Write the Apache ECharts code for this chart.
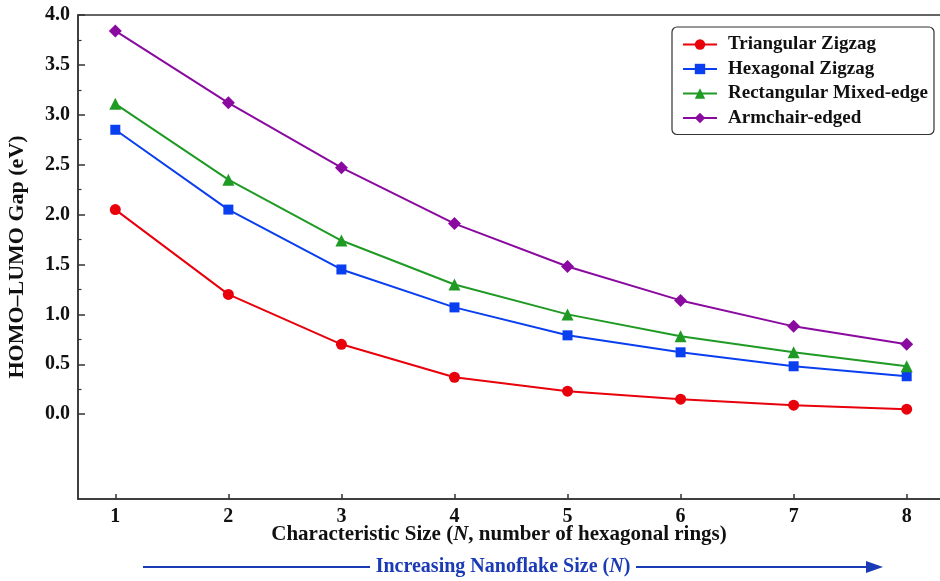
<!DOCTYPE html>
<html>
<head>
<meta charset="utf-8">
<script src="https://cdn.jsdelivr.net/npm/echarts@6/dist/echarts.min.js"></script>
<style>
html, body { margin: 0; padding: 0; background: #fff; }
#main { width: 940px; height: 581px; }
</style>
</head>
<body>
<div id="main"></div>
<script>
// data
var sizes = [1, 2, 3, 4, 5, 6, 7, 8];
var seriesNames = ['Triangular Zigzag', 'Hexagonal Zigzag', 'Rectangular Mixed-edge', 'Armchair-edged'];
var triangular = [2.05, 1.20, 0.70, 0.37, 0.23, 0.15, 0.09, 0.05];
var hexagonal = [2.85, 2.05, 1.45, 1.07, 0.79, 0.62, 0.48, 0.38];
var rectangular = [3.11, 2.35, 1.74, 1.30, 1.00, 0.78, 0.62, 0.48];
var armchair = [3.84, 3.12, 2.47, 1.91, 1.48, 1.14, 0.88, 0.70];
var yTicks = [0, 0.5, 1, 1.5, 2, 2.5, 3, 3.5, 4];
var yMinorTicks = [0.25, 0.75, 1.25, 1.75, 2.25, 2.75, 3.25, 3.75];

var serif = 'Liberation Serif';
var colors = ['#e8000b', '#0a3ff0', '#1f9a24', '#8a0aa0'];
var symbols = ['circle', 'rect', 'triangle', 'diamond'];
var symbolSizes = [11, 10, 12, 13];
var allData = [triangular, hexagonal, rectangular, armchair];

function pairs(vals) {
    var out = [];
    for (var i = 0; i < sizes.length; i++) {
        out.push([sizes[i], vals[i]]);
    }
    return out;
}

var series = [];
for (var i = 0; i < seriesNames.length; i++) {
    series.push({
        name: seriesNames[i],
        type: 'line',
        data: pairs(allData[i]),
        symbol: symbols[i],
        symbolSize: symbolSizes[i],
        lineStyle: { color: colors[i], width: 2 },
        itemStyle: { color: colors[i] },
        z: 3 + i
    });
}

var myChart = echarts.init(document.getElementById('main'));
var option = {
    backgroundColor: '#fff',
    animation: false,
    grid: {
        left: 78, top: 15, width: 866, height: 484,
        outerBoundsMode: 'none',
        containLabel: false,
        show: true, borderColor: '#333', borderWidth: 1.5
    },
    legend: {
        orient: 'vertical',
        left: 672, top: 27,
        padding: [8, 6, 7, 10],
        backgroundColor: '#fff',
        borderColor: '#333',
        borderWidth: 1.2,
        borderRadius: 5,
        itemWidth: 34,
        itemHeight: 13,
        itemGap: 5.5,
        data: seriesNames,
        textStyle: { fontFamily: serif, fontWeight: 'bold', fontSize: 19, lineHeight: 19, color: '#111', padding: [0, 0, 0, 6] }
    },
    xAxis: {
        type: 'value',
        min: 0.67, max: 8.33,
        axisLine: { show: true, onZero: false, lineStyle: { color: '#333', width: 1.5 } },
        axisTick: { show: true, inside: true, length: 5, customValues: sizes, lineStyle: { color: '#333', width: 1.5 } },
        axisLabel: { customValues: sizes, margin: 8, fontFamily: serif, fontWeight: 'bold', fontSize: 20, color: '#111' },
        splitLine: { show: false }
    },
    yAxis: [{
        type: 'value',
        min: -0.85, max: 4,
        name: 'HOMO\u2013LUMO Gap (eV)',
        nameLocation: 'middle',
        nameGap: 50,
        nameTextStyle: { fontFamily: serif, fontWeight: 'bold', fontSize: 22, color: '#111' },
        axisLine: { show: true, onZero: false, lineStyle: { color: '#333', width: 1.5 } },
        axisTick: { show: true, inside: true, length: 7, customValues: yTicks, lineStyle: { color: '#333', width: 1.5 } },
        axisLabel: {
            customValues: yTicks, margin: 8,
            fontFamily: serif, fontWeight: 'bold', fontSize: 20, color: '#111',
            formatter: function (v) { return v.toFixed(1); }
        },
        splitLine: { show: false }
    }, {
        type: 'value',
        min: -0.85, max: 4,
        position: 'left',
        axisLine: { show: false, onZero: false },
        axisTick: { show: true, inside: true, length: 3.5, customValues: yMinorTicks, lineStyle: { color: '#333', width: 1.2 } },
        axisLabel: { show: false },
        splitLine: { show: false }
    }],
    series: series,
    graphic: [
        {
            type: 'text', x: 499, y: 535,
            style: {
                text: '{b|Characteristic Size (}{i|N}{b|, number of hexagonal rings)}',
                align: 'center', verticalAlign: 'middle',
                rich: {
                    b: { fontFamily: serif, fontWeight: 'bold', fontSize: 21, fill: '#111' },
                    i: { fontFamily: serif, fontWeight: 'bold', fontStyle: 'italic', fontSize: 21, fill: '#111' }
                }
            }
        },
        {
            type: 'line',
            shape: { x1: 143, y1: 567, x2: 872, y2: 567 },
            style: { stroke: '#1b3ab5', lineWidth: 2 }
        },
        {
            type: 'polygon',
            shape: { points: [[866, 561], [883, 567], [866, 573]] },
            style: { fill: '#1b3ab5' }
        },
        {
            type: 'rect',
            shape: { x: 370, y: 555, width: 266, height: 24 },
            style: { fill: '#fff' }
        },
        {
            type: 'text', x: 503, y: 567,
            style: {
                text: '{b|Increasing Nanoflake Size (}{i|N}{b|)}',
                align: 'center', verticalAlign: 'middle',
                rich: {
                    b: { fontFamily: serif, fontWeight: 'bold', fontSize: 20, fill: '#1b3ab5' },
                    i: { fontFamily: serif, fontWeight: 'bold', fontStyle: 'italic', fontSize: 20, fill: '#1b3ab5' }
                }
            }
        }
    ]
};
myChart.setOption(option);
</script>
</body>
</html>
